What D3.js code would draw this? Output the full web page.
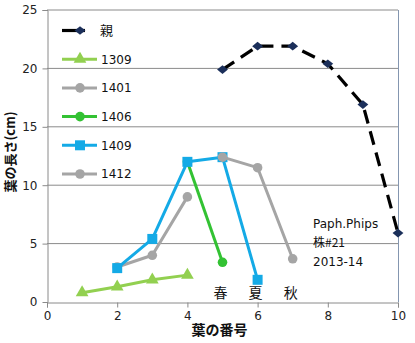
<!DOCTYPE html>
<html>
<head>
<meta charset="utf-8">
<script src="https://cdn.jsdelivr.net/npm/d3@7"></script>
<style>
  html, body { margin: 0; padding: 0; background: #fff; }
  svg { display: block; }
  text { font-family: "DejaVu Sans", Verdana, sans-serif; }
  .jp { font-family: "Noto Sans CJK JP", sans-serif; }
</style>
</head>
<body>
<svg id="chart" width="415" height="343"></svg>
<script>
// Leaf length (cm) by leaf number, for the parent plant and each new growth
const leafParent = [[5, 19.9], [6, 21.9], [7, 21.9], [8, 20.4], [9, 16.9], [10, 5.9]];
const leaf1309 = [[1, 0.8], [2, 1.3], [3, 1.9], [4, 2.3]];
const leaf1401 = [[2, 3.0], [3, 4.0], [4, 9.0]];
const leaf1406 = [[4, 12.0], [5, 3.4]];
const leaf1409 = [[2, 2.9], [3, 5.4], [4, 12.0], [5, 12.4], [6, 1.9]];
const leaf1412 = [[5, 12.4], [6, 11.5], [7, 3.7]];

const seriesNames = ["親", "1309", "1401", "1406", "1409", "1412"];
const xTicks = [0, 2, 4, 6, 8, 10];
const yTicks = [0, 5, 10, 15, 20, 25];
const seasonLabels = [["春", 5], ["夏", 6], ["秋", 7]];
const noteLines = ["Paph.Phips", "株#21", "2013-14"];

const svg = d3.select("#chart");
const x = d3.scaleLinear().domain([0, 10]).range([47, 398]);
const y = d3.scaleLinear().domain([0, 25]).range([302, 10]);

// horizontal gridlines
svg.append("g").selectAll("line").data(yTicks.slice(1)).join("line")
  .attr("x1", x(0)).attr("x2", x(10))
  .attr("y1", d => y(d)).attr("y2", d => y(d))
  .attr("stroke", "#8a8a8a").attr("stroke-width", 1);

// right frame edge
svg.append("line").attr("x1", x(10) + 0.5).attr("x2", x(10) + 0.5)
  .attr("y1", y(25)).attr("y2", y(0))
  .attr("stroke", "#8496b0").attr("stroke-width", 1);

// axes
const yAxis = svg.append("g").attr("transform", `translate(${x(0) + 0.5},0)`)
  .call(d3.axisLeft(y).tickValues(yTicks).tickSize(5).tickPadding(5));
const xAxis = svg.append("g").attr("transform", `translate(0,${y(0) + 0.5})`)
  .call(d3.axisBottom(x).tickValues(xTicks).tickSize(5).tickPadding(4));
[yAxis, xAxis].forEach(a => {
  a.select(".domain").attr("stroke", "#8a8a8a");
  a.selectAll(".tick line").attr("stroke", "#8a8a8a");
  a.selectAll(".tick text").attr("fill", "#222").attr("font-size", 12)
    .attr("font-family", "\"DejaVu Sans\", Verdana, sans-serif");
});
yAxis.selectAll(".tick").filter(d => d === 0).select("line").remove();

const line = d3.line().x(d => x(d[0])).y(d => y(d[1]));

const series = [
  { name: seriesNames[0], data: leafParent, stroke: "#000", fill: "#1b2f5a", marker: "diamond", dash: "14,8", width: 3.2 },
  { name: seriesNames[1], data: leaf1309, stroke: "#92d050", fill: "#92d050", marker: "triangle", width: 3 },
  { name: seriesNames[2], data: leaf1401, stroke: "#a5a5a5", fill: "#a5a5a5", marker: "circle", width: 3 },
  { name: seriesNames[3], data: leaf1406, stroke: "#33c233", fill: "#33c233", marker: "circle", width: 3 },
  { name: seriesNames[4], data: leaf1409, stroke: "#14aae6", fill: "#14aae6", marker: "square", width: 3 },
  { name: seriesNames[5], data: leaf1412, stroke: "#a5a5a5", fill: "#a5a5a5", marker: "circle", width: 3 }
];

const symbolFor = {
  diamond: d3.symbol().type(d3.symbolDiamond2).size(48),
  triangle: d3.symbol().type(d3.symbolTriangle).size(70),
  circle: d3.symbol().type(d3.symbolCircle).size(72),
  square: d3.symbol().type(d3.symbolSquare).size(100)
};

// draw each series: line then markers, in series order
series.forEach(s => {
  const g = svg.append("g");
  g.append("path").datum(s.data).attr("d", line)
    .attr("fill", "none").attr("stroke", s.stroke).attr("stroke-width", s.width)
    .attr("stroke-linejoin", "round")
    .attr("stroke-dasharray", s.dash || null);
  g.selectAll("path.m").data(s.data).join("path").attr("class", "m")
    .attr("transform", d => `translate(${x(d[0])},${y(d[1])})` + (s.marker === "diamond" ? " scale(1.25,1)" : ""))
    .attr("d", symbolFor[s.marker]).attr("fill", s.fill);
});

// legend
const legY0 = 30.5, legStep = 28.7;
series.forEach((s, i) => {
  const ly = legY0 + i * legStep;
  const g = svg.append("g");
  const x2 = i === 0 ? 85 : 97;
  g.append("line").attr("x1", 62).attr("x2", x2).attr("y1", ly).attr("y2", ly)
    .attr("stroke", s.stroke).attr("stroke-width", s.width);
  g.append("path").attr("transform", `translate(80,${ly})` + (s.marker === "diamond" ? " scale(1.25,1)" : ""))
    .attr("d", symbolFor[s.marker]).attr("fill", s.fill);
  g.append("text").attr("x", i === 0 ? 100 : 101).attr("y", ly).attr("dy", "0.36em")
    .attr("class", i === 0 ? "jp" : null)
    .attr("font-size", i === 0 ? 13 : 12).attr("fill", "#111").text(s.name);
});

// season labels under the late leaves
svg.append("g").selectAll("text").data(seasonLabels).join("text")
  .attr("class", "jp").attr("x", d => x(d[1]) - 2).attr("y", 293).attr("dy", "0.36em")
  .attr("text-anchor", "middle").attr("font-size", 14).attr("fill", "#111")
  .text(d => d[0]);

// plant note
svg.append("g").selectAll("text").data(noteLines).join("text")
  .attr("class", (d, i) => i === 1 ? "jp" : null)
  .attr("x", 313).attr("y", (d, i) => 224 + i * 18.7).attr("dy", "0.36em")
  .attr("font-size", 12).attr("fill", "#111").text(d => d);

// axis titles
svg.append("text").attr("class", "jp").attr("x", x(5) - 3).attr("y", 330).attr("dy", "0.36em")
  .attr("text-anchor", "middle").attr("font-size", 14).attr("font-weight", "bold").attr("fill", "#111")
  .text("葉の番号");
svg.append("text").attr("class", "jp")
  .attr("transform", "translate(10,152) rotate(-90)").attr("dy", "0.36em")
  .attr("text-anchor", "middle").attr("font-size", 13).attr("font-weight", "bold").attr("fill", "#111")
  .text("葉の長さ(cm)");
</script>
</body>
</html>
